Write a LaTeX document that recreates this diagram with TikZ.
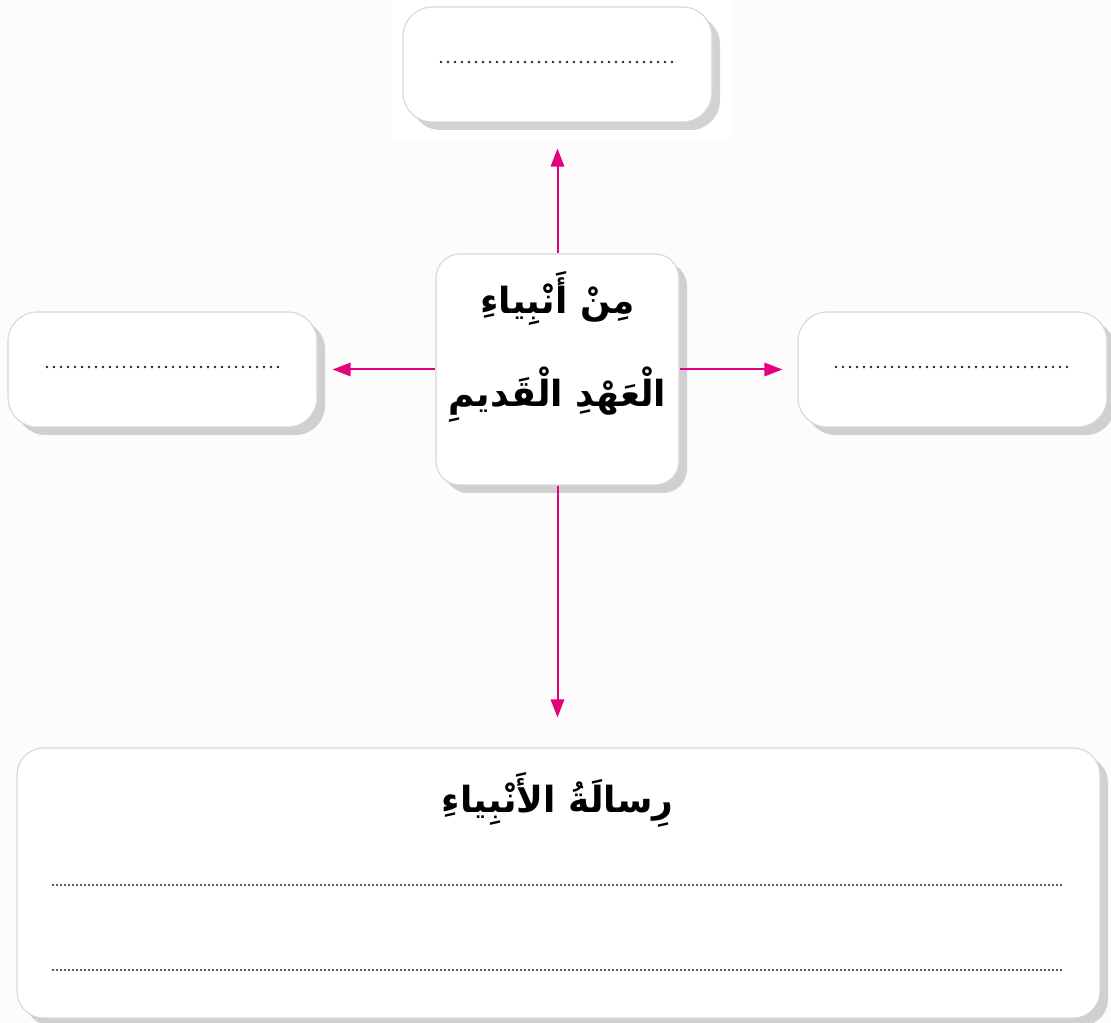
\documentclass[tikz,border=0pt]{standalone}
\usepackage{fontspec}
\newfontfamily\arabicfont[Script=Arabic]{DejaVu Sans}
\TeXXeTstate=1
\usetikzlibrary{arrows.meta,shadows}
\definecolor{pinkarr}{RGB}{229,0,125}
\definecolor{bgc}{RGB}{252,252,253}
\definecolor{boxline}{RGB}{215,215,218}
\tikzset{
  card/.style={draw=boxline, line width=0.8pt, fill=white, rounded corners=22pt,
    drop shadow={shadow xshift=6pt, shadow yshift=-6pt, fill=black!50, opacity=0.35},
    inner sep=0pt},
  arr/.style={draw=pinkarr, line width=1.5pt, -{Triangle[length=13.5pt,width=10pt]}},
  dots/.style={line width=2.2pt, dash pattern=on 0pt off 5.25pt, line cap=round, draw=black!85},
  fdots/.style={line width=1.7pt, dash pattern=on 0pt off 3pt, line cap=round, draw=black!85},
  artext/.style={font=\arabicfont\bfseries\fontsize{27}{70}\selectfont, align=center, inner sep=0pt}
}
\begin{document}
\begin{tikzpicture}[x=0.75pt,y=-0.75pt]
\fill[bgc] (0,0) rectangle (1111,1023);
\useasboundingbox (0,0) rectangle (1111,1023);
\fill[white] (392,0) rectangle (730,140);
% boxes
\node[card, minimum width=309*0.75pt, minimum height=115*0.75pt] (t) at (557.5,64.5) {};
\node[card, minimum width=309*0.75pt, minimum height=115*0.75pt] (l) at (162.5,369.5) {};
\node[card, minimum width=309*0.75pt, minimum height=115*0.75pt] (r) at (952.5,369.5) {};
\node[card, rounded corners=18pt, minimum width=243*0.75pt, minimum height=231*0.75pt] (c) at (557.5,369.5) {};
\node[card, rounded corners=20pt, minimum width=1083*0.75pt, minimum height=270*0.75pt] (b) at (558.5,883) {};
% texts
\node[artext] (ct) at (557.5,347) {\beginR مِنْ أَنْبِياءِ\endR\\\beginR الْعَهْدِ الْقَديمِ\endR};
\node[artext] (bt) at (557.5,800) {\beginR رِسالَةُ الأَنْبِياءِ\endR};
% dotted lines
\coordinate (t1) at (441,62); \coordinate (t2) at (675,62);
\coordinate (l1) at (47,367); \coordinate (l2) at (281,367);
\coordinate (r1) at (836,367); \coordinate (r2) at (1070,367);
\coordinate (b1) at (53,885); \coordinate (b2) at (1063,885);
\coordinate (b3) at (53,970); \coordinate (b4) at (1063,970);
\draw[dots] (t1) -- (t2);
\draw[dots] (l1) -- (l2);
\draw[dots] (r1) -- (r2);
\draw[fdots] (b1) -- (b2);
\draw[fdots] (b3) -- (b4);
% arrows
\draw[arr, shorten >=26*0.75pt] (c.north) -- (t.south);
\draw[arr, shorten >=15*0.75pt] (c.west) -- (l.east);
\draw[arr, shorten >=15*0.75pt] (c.east) -- (r.west);
\draw[arr, shorten >=30*0.75pt] (c.south) -- (b.north -| c.south);
\end{tikzpicture}
\end{document}
